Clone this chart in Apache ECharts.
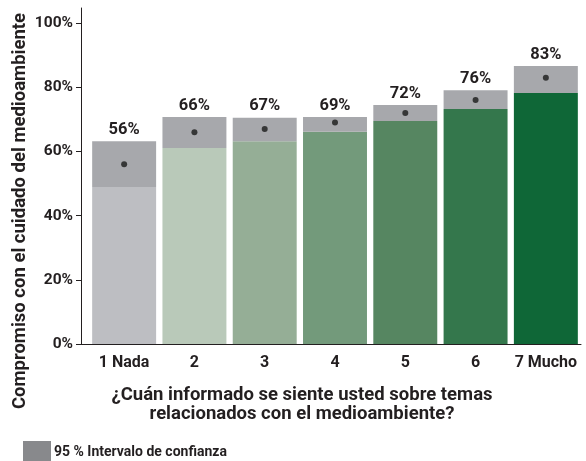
<!DOCTYPE html>
<html>
<head>
<meta charset="utf-8">
<script src="https://cdn.jsdelivr.net/npm/echarts@6/dist/echarts.min.js"></script>
<style>
  html, body { margin: 0; padding: 0; background: #fff; }
  #chart { width: 586px; height: 461px; }
</style>
</head>
<body>
<div id="chart"></div>
<script>
// categorías y valores
const categories = ["1 Nada", "2", "3", "4", "5", "6", "7 Mucho"];
const estimate = [56, 66, 67, 69, 72, 76, 83];     // punto central
const lowerCI = [48.9, 61.1, 63.2, 66.1, 69.5, 73.2, 78.2];
const upperCI = [63.2, 70.7, 70.5, 70.7, 74.5, 79.1, 86.6];
const yTicks = [0, 20, 40, 60, 80, 100];

const barColors = ["#BDBEC2", "#B9C9B9", "#95AE96", "#739A7B", "#568661", "#34774C", "#0F6737"];
const font = "Roboto, 'Liberation Sans', sans-serif";
const ink = "#231F20";

const chart = echarts.init(document.getElementById("chart"));
chart.setOption({
  animation: false,
  grid: { left: 89, right: 5, top: 8, bottom: 117 },
  legend: {
    data: ["95 % Intervalo de confianza"],
    left: 18,
    top: 436,
    itemWidth: 28,
    itemHeight: 23,
    itemGap: 6,
    icon: "rect",
    itemStyle: { color: "#88898C" },
    textStyle: { fontFamily: font, fontWeight: "bold", fontSize: 14, color: ink, padding: [2, 0, 0, -2] },
  },
  xAxis: {
    type: "category",
    data: categories,
    axisLine: { lineStyle: { color: ink, width: 1 } },
    axisTick: { alignWithLabel: true, length: 5, lineStyle: { color: ink } },
    axisLabel: { interval: 0, fontFamily: font, fontWeight: "bold", fontSize: 16, color: ink, margin: 11 },
  },
  yAxis: {
    type: "value",
    min: 0,
    max: 104.7,
    offset: 8,
    splitLine: { show: false },
    axisLine: { show: true, lineStyle: { color: ink, width: 1 } },
    axisTick: { show: true, length: 5, customValues: yTicks, lineStyle: { color: ink } },
    axisLabel: {
      customValues: yTicks,
      formatter: "{value}%",
      fontFamily: font,
      fontWeight: "bold",
      fontSize: 15.5,
      color: ink,
      margin: 8,
    },
  },
  graphic: [
    {
      // tramo del eje x entre el eje y y la primera categoría
      type: "line",
      shape: { x1: 81, y1: 344.5, x2: 89, y2: 344.5 },
      style: { stroke: ink, lineWidth: 1 },
    },
    {
      type: "text",
      x: 20,
      y: 211,
      rotation: Math.PI / 2,
      style: {
        text: "Compromiso con el cuidado del medioambiente",
        font: "bold 18.5px " + font,
        fill: ink,
        textAlign: "center",
        textVerticalAlign: "middle",
      },
    },
    {
      type: "text",
      x: 302,
      y: 405,
      style: {
        text: "¿Cuán informado se siente usted sobre temas\nrelacionados con el medioambiente?",
        font: "bold 18.5px " + font,
        fill: ink,
        textAlign: "center",
        textVerticalAlign: "middle",
        lineHeight: 19,
      },
    },
  ],
  series: [
    {
      name: "base",
      type: "bar",
      stack: "ci",
      barCategoryGap: "9%",
      data: lowerCI.map((v, i) => ({ value: v, itemStyle: { color: barColors[i] } })),
    },
    {
      name: "95 % Intervalo de confianza",
      type: "bar",
      stack: "ci",
      itemStyle: { color: "#A7A8AC" },
      data: upperCI.map((v, i) => +(v - lowerCI[i]).toFixed(2)),
      label: {
        show: true,
        position: "top",
        distance: 3,
        formatter: (p) => estimate[p.dataIndex] + "%",
        fontFamily: font,
        fontWeight: "bold",
        fontSize: 16.5,
        color: ink,
      },
    },
    {
      name: "punto",
      type: "scatter",
      symbolSize: 6,
      itemStyle: { color: "#1A1A1A" },
      data: estimate,
      z: 5,
    },
  ],
});
</script>
</body>
</html>
